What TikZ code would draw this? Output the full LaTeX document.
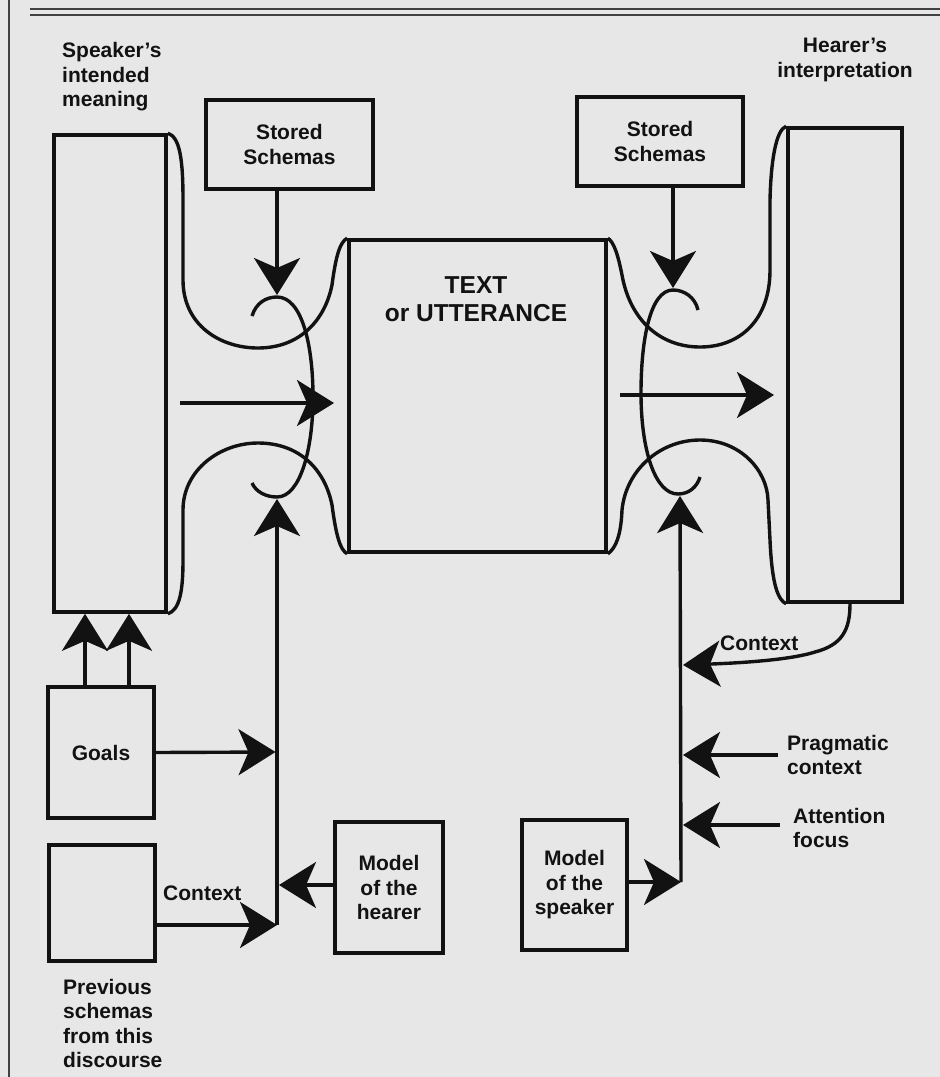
\documentclass[tikz,border=0pt]{standalone}
\usepackage{fontspec}
\setmainfont{Liberation Sans}
\usetikzlibrary{arrows.meta}
\definecolor{paper}{RGB}{231,231,231}
\definecolor{ink}{RGB}{18,18,18}
\newcommand\lblfont{\fontsize{21pt}{24.5pt}\selectfont\bfseries}
\newcommand\bigfont{\fontsize{24.5pt}{28pt}\selectfont\bfseries}
\begin{document}
\begin{tikzpicture}[x=1pt,y=-1pt,
  box/.style={draw=ink, line width=3.6pt, inner sep=0pt, align=center, font=\lblfont, text=ink},
  lbl/.style={inner sep=0pt, font=\lblfont, text=ink},
  wire/.style={draw=ink, line width=3.4pt},
  arr/.style={wire, -{Stealth[length=37pt,width=46pt,inset=10pt]}},
  rule/.style={draw=ink!80, line width=1.5pt}]
\fill[paper] (0,0) rectangle (940,1077);
\useasboundingbox (0,0) rectangle (940,1077);
% frame rules
\coordinate (fl0) at (9,0); \coordinate (fl1) at (9,1077);
\draw[rule] (fl0) -- (fl1);
\coordinate (ft0) at (30,9); \coordinate (ft1) at (940,9);
\coordinate (fu0) at (30,15); \coordinate (fu1) at (940,15);
\draw[rule] (ft0) -- (ft1);
\draw[rule] (fu0) -- (fu1);
% boxes
\node[box, minimum width=112pt, minimum height=477pt] (L) at (110,373.5) {};
\node[box, minimum width=167pt, minimum height=89pt] (SS1) at (289.5,144.5) {Stored\\Schemas};
\node[box, minimum width=257pt, minimum height=312pt] (T) at (477.5,396) {};
\node[lbl, align=center, font=\bigfont] (Tl) at (476,299) {TEXT\\or UTTERANCE};
\node[box, minimum width=166pt, minimum height=89pt] (SS2) at (660,141.5) {Stored\\Schemas};
\node[box, minimum width=114pt, minimum height=474pt] (R) at (845,365) {};
\node[box, minimum width=106pt, minimum height=131pt] (G) at (101,752.5) {Goals};
\node[box, minimum width=106pt, minimum height=116pt] (P) at (102,903) {};
\node[box, minimum width=108pt, minimum height=131pt] (MH) at (389,887.5) {Model\\of the\\hearer};
\node[box, minimum width=105pt, minimum height=130pt] (MS) at (574.5,885) {Model\\of the\\speaker};
% labels
\node[lbl, align=left, anchor=west] (spk) at (62,77) {Speaker's\\intended\\meaning};
\node[lbl, align=center] (hr) at (845,60) {Hearer's\\interpretation};
\node[lbl, align=left, anchor=west] (prev) at (63,1023.5) {Previous\\schemas\\from this\\discourse};
\node[lbl, anchor=west] (ctxL) at (163,893) {Context};
\node[lbl, anchor=west] (ctxR) at (720,643) {Context};
\node[lbl, align=left, anchor=west] (prag) at (787,755) {Pragmatic\\context};
\node[lbl, align=left, anchor=west] (att) at (793,828) {Attention\\focus};
% coordinates
\coordinate (kL) at (277,295);
\coordinate (kLb) at (277,499);
\coordinate (hL0) at (180,403); \coordinate (hL1) at (334,403);
\coordinate (jL) at (277,925);
\coordinate (gT) at (275.5,752);
\coordinate (pT) at (277,925);
\coordinate (mT) at (279,885);
\coordinate (kR) at (673,288);
\coordinate (kRb) at (680,496);
\coordinate (hR0) at (620,395); \coordinate (hR1) at (774,395);
\coordinate (jR) at (681,882);
\coordinate (msT) at (681,882);
\coordinate (pr0) at (778,755); \coordinate (pr1) at (683,755);
\coordinate (at0) at (780,825); \coordinate (at1) at (683,825);
\coordinate (cx1) at (683,665);
% left flares
\draw[wire] (L.north east) .. controls (180,137) and (183,160) .. (183,200) -- (183,280)
  .. controls (183,325) and (220,348) .. (258,348) .. controls (300,348) and (325,320) .. (332,285)
  .. controls (336,255) and (340,242) .. (T.north west);
\draw[wire] (L.south east) .. controls (180,610) and (183,590) .. (183,560) -- (183,510)
  .. controls (183,470) and (220,443) .. (258,443) .. controls (300,443) and (325,470) .. (332,505)
  .. controls (336,535) and (340,550) .. (T.south west);
% right flares
\draw[wire] (T.north east) .. controls (614,242) and (618,255) .. (622,275)
  .. controls (630,320) and (660,347) .. (700,347) .. controls (740,347) and (770,320) .. (770,270)
  -- (770,200) .. controls (771,160) and (776,130) .. (R.north west);
\draw[wire] (T.south east) .. controls (616,548) and (621,535) .. (622,510)
  .. controls (626,470) and (660,440) .. (700,440) .. controls (740,440) and (767,470) .. (768,500)
  -- (770,540) .. controls (772,585) and (778,600) .. (R.south west);
% curls
\draw[wire] (252,316) .. controls (256,303) and (266,297) .. (277,297)
  .. controls (302,297) and (313,345) .. (313,397) .. controls (313,450) and (300,497) .. (277,497)
  .. controls (266,497) and (256,492) .. (252,483);
\draw[wire] (698,310) .. controls (695,297) and (684,290) .. (673,290)
  .. controls (650,290) and (641,340) .. (641,393) .. controls (641,450) and (655,494) .. (678,494)
  .. controls (689,494) and (697,487) .. (700,477);
% left arrows
\draw[arr] (SS1.south -| kL) -- (kL);
\draw[arr] (hL0) -- (hL1);
\draw[arr] (jL) -- (kLb);
\draw[arr] ([xshift=-16pt]G.north) -- ([xshift=-16pt]G.north |- L.south);
\draw[arr] ([xshift=28pt]G.north) -- ([xshift=28pt]G.north |- L.south);
\draw[arr] (G.east) -- (gT);
\draw[arr] (P.east |- pT) -- (pT);
\draw[arr] (MH.west |- mT) -- (mT);
% right arrows
\draw[arr] (SS2.south -| kR) -- (kR);
\draw[arr] (hR0) -- (hR1);
\draw[arr] (jR) -- (kRb);
\draw[arr] (MS.east |- msT) -- (msT);
\draw[arr] ([xshift=5pt]R.south) .. controls (850,630) and (842,645) .. (815,652) .. controls (790,660) and (740,663) .. (cx1);
\draw[arr] (pr0) -- (pr1);
\draw[arr] (at0) -- (at1);
\end{tikzpicture}
\end{document}
